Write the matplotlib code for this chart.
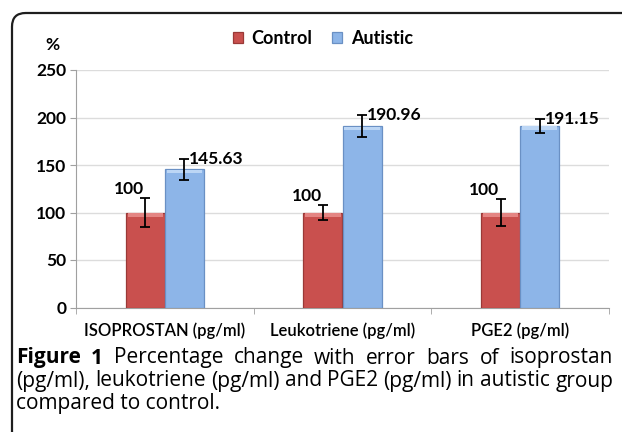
#!/usr/bin/env python3
"""Percentage change of isoprostan, leukotriene and PGE2 in autistic vs control."""

import matplotlib.pyplot as plt
import numpy as np
from matplotlib.patches import FancyBboxPatch, Rectangle

categories = ["ISOPROSTAN (pg/ml)", "Leukotriene (pg/ml)", "PGE2 (pg/ml)"]
control = [100, 100, 100]
control_err = [15, 7.8, 14]
autistic = [145.63, 190.96, 191.15]
autistic_err = [11, 12, 7.5]
series_names = ["Control", "Autistic"]
y_ticks = [0, 50, 100, 150, 200, 250]
caption_bold = "Figure 1"
caption_lines = [
    "Percentage change with error bars of isoprostan",
    "(pg/ml), leukotriene (pg/ml) and PGE2 (pg/ml) in autistic group",
    "compared to control.",
]

RED = "#c9504e"
RED_EDGE = "#9a3937"
RED_LIGHT = "#e48583"
BLUE = "#8db5e8"
BLUE_EDGE = "#6a90c4"
BLUE_LIGHT = "#bcd6f5"
FONT = "Lato"
CAP_FONT = "Open Sans"
CAP_SIZE = 15

plt.rcParams.update({"font.family": FONT, "font.size": 12.5})

W, H = 622, 432
fig = plt.figure(figsize=(W / 100, H / 100), dpi=100)

# rounded frame, running off the right and bottom edges
frame = FancyBboxPatch((12 / W, 1 - 13 / H - 1.0), 1.5, 1.0,
                       boxstyle="round,pad=0,rounding_size=0.022",
                       transform=fig.transFigure, fill=False,
                       edgecolor="#1e1e1e", linewidth=1.6, mutation_aspect=W / H)
fig.patches.append(frame)

ax = fig.add_axes([76 / W, 1 - 307.5 / H, (609 - 76) / W, (307.5 - 70) / H])

x = np.arange(len(categories))
width = 0.22
bars_c = ax.bar(x - width / 2, control, width, color=RED, edgecolor=RED_EDGE,
                linewidth=0.9, label=series_names[0], zorder=3)
bars_a = ax.bar(x + width / 2, autistic, width, color=BLUE, edgecolor=BLUE_EDGE,
                linewidth=0.9, label=series_names[1], zorder=3)

# light bevel along the top of each bar
for bars, light in [(bars_c, RED_LIGHT), (bars_a, BLUE_LIGHT)]:
    for b in bars:
        ax.add_patch(Rectangle((b.get_x() + 0.01, b.get_height() - 4.5), b.get_width() - 0.02, 4,
                               facecolor=light, edgecolor="none", zorder=3.2))

err_style = dict(fmt="none", ecolor="black", elinewidth=1.3, capsize=3.5, capthick=1.3, zorder=4)
ax.errorbar(x - width / 2, control, yerr=control_err, **err_style)
ax.errorbar(x + width / 2, autistic, yerr=autistic_err, **err_style)

for xi, v, e in zip(x, control, control_err):
    ax.annotate(f"{v:g}", (xi - width / 2, v + e), xytext=(-1, 1),
                textcoords="offset points", ha="right", va="bottom",
                fontsize=12.5, fontweight="bold")
for xi, v, e in zip(x, autistic, autistic_err):
    ax.annotate(f"{v:.2f}", (xi + width / 2, v + e), xytext=(3.5, 0),
                textcoords="offset points", ha="left", va="center",
                fontsize=12.5, fontweight="bold")

ax.set_xlim(-0.5, len(categories) - 0.5)
ax.set_ylim(0, 250)
ax.set_yticks(y_ticks)
ax.set_yticklabels([str(t) for t in y_ticks], fontweight="bold")
ax.set_xticks(x)
ax.set_xticklabels(categories, fontweight="semibold", fontsize=12)
ax.tick_params(axis="x", length=0, pad=11)
ax.set_xticks(np.arange(len(categories) + 1) - 0.5, minor=True)
ax.tick_params(axis="x", which="minor", length=4, color="#a0a0a0", direction="out")
ax.tick_params(axis="y", length=4, color="#a0a0a0", direction="out", pad=3)
ax.grid(axis="y", color="#dcdcdc", linewidth=1.0, zorder=0)
ax.set_axisbelow(True)
for side in ["top", "right"]:
    ax.spines[side].set_visible(False)
for side in ["left", "bottom"]:
    ax.spines[side].set_color("#a0a0a0")

fig.text(52 / W, 1 - 45 / H, "%", ha="center", va="center", fontsize=12.5, fontweight="bold")

fig.legend(handles=[bars_c, bars_a], loc="center", bbox_to_anchor=(323 / W, 1 - 38 / H),
           ncol=2, frameon=False, prop={"weight": "bold", "size": 13},
           handlelength=0.55, handleheight=0.55, handletextpad=0.5, columnspacing=1.1)

# caption: first two lines justified between the margins, last line left aligned
fig.canvas.draw()
renderer = fig.canvas.get_renderer()
cap_left, cap_right = 16, 613
line_y = [358, 381, 403]


def justify(words, y):
    items = []
    for word, bold in words:
        t = fig.text(0, 1 - y / H, word, ha="left", va="center", fontsize=CAP_SIZE,
                     family=CAP_FONT, fontweight="bold" if bold else "normal")
        items.append(t)
    widths = [t.get_window_extent(renderer).width for t in items]
    gap = (cap_right - cap_left - sum(widths)) / max(len(items) - 1, 1)
    pos = cap_left
    for t, w in zip(items, widths):
        t.set_x(pos / W)
        pos += w + gap


line1 = [(w, True) for w in caption_bold.split()] + [(w, False) for w in caption_lines[0].split()]
justify(line1, line_y[0])
justify([(w, False) for w in caption_lines[1].split()], line_y[1])
fig.text(cap_left / W, 1 - line_y[2] / H, caption_lines[2], ha="left", va="center",
         fontsize=CAP_SIZE, family=CAP_FONT)

fig.savefig("out.png", dpi=100)
